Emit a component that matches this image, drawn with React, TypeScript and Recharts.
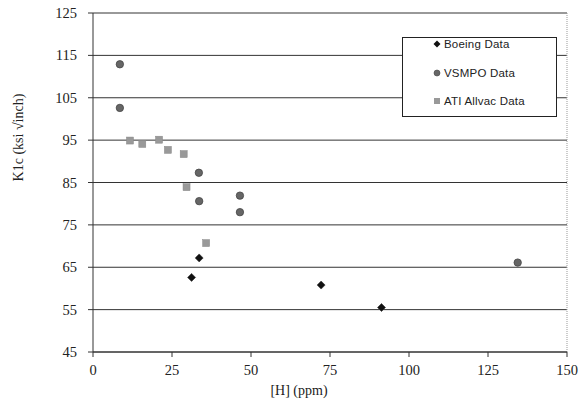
import React from "react";
import {
  ScatterChart,
  Scatter,
  XAxis,
  YAxis,
  CartesianGrid,
  ReferenceLine,
  Legend,
} from "recharts";

// values
const boeingH = [31.2, 33.6, 72.2, 91.3];
const boeingK1c = [62.6, 67.2, 60.8, 55.5];

const vsmpoH = [8.5, 8.5, 33.5, 33.6, 46.5, 46.5, 134.4];
const vsmpoK1c = [112.9, 102.6, 87.3, 80.6, 81.9, 78.0, 66.1];

const atiH = [11.7, 15.6, 20.9, 23.7, 28.7, 29.6, 35.8];
const atiK1c = [94.9, 94.1, 95.1, 92.7, 91.7, 83.9, 70.7];

const xTicks = [0, 25, 50, 75, 100, 125, 150];
const yTicks = [45, 55, 65, 75, 85, 95, 105, 115, 125];

const seriesNames = ["Boeing Data", "VSMPO Data", "ATI Allvac Data"];

const toPoints = (xs: number[], ys: number[]) =>
  xs.map((h, i) => ({ h, k: ys[i] }));

const serif = "Liberation Serif, Times New Roman, serif";

const XTick = (props: any) => {
  const { x, y, payload } = props;
  return (
    <text x={x} y={y + 16} textAnchor="middle" fontFamily={serif} fontSize={14.5} fill="#222">
      {payload.value}
    </text>
  );
};

const YTick = (props: any) => {
  const { x, y, payload } = props;
  return (
    <text x={x - 9} y={y + 5} textAnchor="end" fontFamily={serif} fontSize={14.5} fill="#222">
      {payload.value}
    </text>
  );
};

const Diamond = (props: any) => {
  const { cx, cy } = props;
  const s = 4;
  return (
    <path
      d={`M${cx},${cy - s} L${cx + s},${cy} L${cx},${cy + s} L${cx - s},${cy} Z`}
      fill="#111"
      stroke="#333"
      strokeWidth={0.6}
    />
  );
};

const Dot = (props: any) => {
  const { cx, cy } = props;
  return <circle cx={cx} cy={cy} r={3.7} fill="#666" stroke="#444" strokeWidth={0.8} />;
};

const Square = (props: any) => {
  const { cx, cy } = props;
  return <rect x={cx - 3.5} y={cy - 3.5} width={7} height={7} fill="#999" stroke="#888" strokeWidth={0.5} />;
};

const LegendBox = () => {
  const icon = (i: number) => {
    if (i === 0)
      return (
        <svg width={8} height={8}>
          <path d="M4,0.5 L7.5,4 L4,7.5 L0.5,4 Z" fill="#111" />
        </svg>
      );
    if (i === 1)
      return (
        <svg width={8} height={8}>
          <circle cx={4} cy={4} r={3} fill="#666" stroke="#444" strokeWidth={0.6} />
        </svg>
      );
    return (
      <svg width={8} height={8}>
        <rect x={1} y={1} width={6} height={6} fill="#999" />
      </svg>
    );
  };
  return (
    <div
      style={{
        width: 155,
        height: 80,
        border: "1px solid #222",
        background: "#fff",
        boxSizing: "border-box",
      }}
    >
      {seriesNames.map((name, i) => (
        <div
          key={name}
          style={{
            display: "flex",
            alignItems: "center",
            height: 28.5,
            paddingLeft: 30,
            fontFamily: "'Liberation Sans', Arial, sans-serif",
            fontSize: 11.5,
            letterSpacing: 0.2,
            color: "#222",
            marginTop: i === 0 ? -8 : 0,
          }}
        >
          {icon(i)}
          <span style={{ marginLeft: 3 }}>{name}</span>
        </div>
      ))}
    </div>
  );
};

const App = () => {
  return (
    <div style={{ position: "absolute", left: 0, top: 0, background: "#fff" }}>
      <ScatterChart
        width={582}
        height={408}
        margin={{ top: 13, right: 15, left: 0, bottom: 0 }}
      >
        <CartesianGrid horizontal vertical={false} stroke="#333" strokeWidth={1} />
        <XAxis
          type="number"
          dataKey="h"
          domain={[0, 150]}
          ticks={xTicks}
          height={56}
          stroke="#333"
          tickSize={5}
          tick={<XTick />}
          label={{
            content: (p: any) => {
              const vb = p.viewBox;
              return (
                <text
                  x={vb.x + vb.width / 2 - 31}
                  y={vb.y + 43}
                  textAnchor="middle"
                  fontFamily={serif}
                  fontSize={14}
                  fill="#222"
                >
                  [H] (ppm)
                </text>
              );
            },
          }}
        />
        <YAxis
          type="number"
          dataKey="k"
          domain={[45, 125]}
          ticks={yTicks}
          width={93}
          stroke="#333"
          tickSize={5}
          tick={<YTick />}
          label={{
            content: (p: any) => {
              const vb = p.viewBox;
              const x = vb.x + 18;
              const y = vb.y + vb.height / 2 - 45;
              return (
                <text
                  x={x}
                  y={y}
                  transform={`rotate(-90, ${x}, ${y})`}
                  textAnchor="middle"
                  dominantBaseline="central"
                  fontFamily={serif}
                  fontSize={14}
                  fill="#222"
                >
                  K1c (ksi  √inch)
                </text>
              );
            },
          }}
        />
        <ReferenceLine y={125} stroke="#999" strokeDasharray="1 1" />
        <ReferenceLine x={150} stroke="#999" strokeDasharray="1 1" />
        <Legend
          layout="horizontal"
          verticalAlign="middle"
          align="center"
          content={<LegendBox />}
          wrapperStyle={{ position: "absolute", left: 402, top: 37, width: 155, height: 80 }}
        />
        <Scatter
          name={seriesNames[0]}
          data={toPoints(boeingH, boeingK1c)}
          shape={<Diamond />}
          isAnimationActive={false}
        />
        <Scatter
          name={seriesNames[1]}
          data={toPoints(vsmpoH, vsmpoK1c)}
          shape={<Dot />}
          isAnimationActive={false}
        />
        <Scatter
          name={seriesNames[2]}
          data={toPoints(atiH, atiK1c)}
          shape={<Square />}
          isAnimationActive={false}
        />
      </ScatterChart>
    </div>
  );
};

export default App;
